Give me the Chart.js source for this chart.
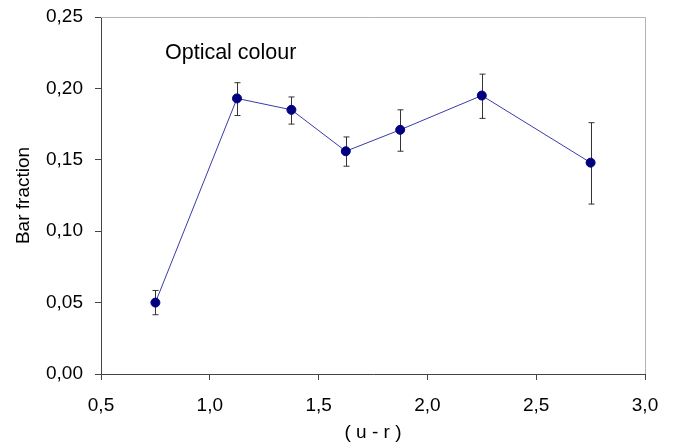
<!DOCTYPE html>
<html>
<head>
<meta charset="utf-8">
<script src="https://cdn.jsdelivr.net/npm/chart.js@4/dist/chart.umd.min.js"></script>
<style>
  html, body { margin: 0; padding: 0; background: #fff; }
  #wrap { width: 674px; height: 444px; }
</style>
</head>
<body>
<div id="wrap"><canvas id="chart"></canvas></div>
<script>
// colour bins (u - r) and measured bar fraction
const colourBins  = [0.75, 1.125, 1.375, 1.625, 1.875, 2.25, 2.75];
const barFraction = [0.050, 0.193, 0.185, 0.156, 0.171, 0.195, 0.148];
const errLow      = [0.0415, 0.181, 0.175, 0.1455, 0.156, 0.179, 0.119];
const errHigh     = [0.0585, 0.204, 0.194, 0.166, 0.185, 0.210, 0.176];

const panelLabel = 'Optical colour';
const AXIS_FONT  = { family: 'Liberation Sans, Arial, sans-serif', size: 19 };

// error bars, drawn under the markers
const errorBars = {
  id: 'errorBars',
  beforeDatasetsDraw(chart) {
    const { ctx, scales: { x, y } } = chart;
    ctx.save();
    ctx.strokeStyle = '#333';
    ctx.lineWidth = 1;
    colourBins.forEach((b, i) => {
      const px = Math.round(x.getPixelForValue(b)) + 0.5;
      const yt = y.getPixelForValue(errHigh[i]);
      const yb = y.getPixelForValue(errLow[i]);
      ctx.beginPath();
      ctx.moveTo(px, yt); ctx.lineTo(px, yb);
      ctx.moveTo(px - 3, yt); ctx.lineTo(px + 3, yt);
      ctx.moveTo(px - 3, yb); ctx.lineTo(px + 3, yb);
      ctx.stroke();
    });
    ctx.restore();
  }
};

// light top/right frame + the panel label
const frame = {
  id: 'frame',
  afterDraw(chart) {
    const { ctx, chartArea: a, scales: { x, y } } = chart;
    ctx.save();
    ctx.strokeStyle = '#b4b4b4';
    ctx.lineWidth = 1;
    ctx.beginPath();
    ctx.moveTo(a.left, a.top + 0.5); ctx.lineTo(a.right + 0.5, a.top + 0.5);
    ctx.lineTo(a.right + 0.5, a.bottom);
    ctx.stroke();
    ctx.fillStyle = '#000';
    ctx.font = '21.5px Liberation Sans, Arial, sans-serif';
    ctx.textBaseline = 'middle';
    ctx.fillText(panelLabel, x.getPixelForValue(0.794), y.getPixelForValue(0.2247));
    ctx.restore();
  }
};

new Chart(document.getElementById('chart'), {
  type: 'line',
  data: {
    datasets: [{
      data: colourBins.map((b, i) => ({ x: b, y: barFraction[i] })),
      borderColor: '#3a3aa8',
      borderWidth: 1,
      backgroundColor: '#000080',
      pointBackgroundColor: '#000080',
      pointBorderColor: '#000080',
      pointRadius: 4.5,
      tension: 0,
    }],
  },
  options: {
    responsive: true,
    maintainAspectRatio: false,
    animation: false,
    layout: { padding: { left: 0, right: 29, top: 17, bottom: 0 } },
    plugins: { legend: { display: false }, tooltip: { enabled: false } },
    scales: {
      x: {
        type: 'linear',
        min: 0.5, max: 3.0,
        afterFit: s => { s.height = 70; s.paddingLeft = 0; s.paddingRight = 0; },
        border: { color: '#444', width: 1 },
        grid: { drawOnChartArea: false, drawTicks: true, tickLength: 6, color: '#444' },
        ticks: {
          stepSize: 0.5, padding: 14, color: '#000', font: AXIS_FONT,
          callback: v => v.toFixed(1).replace('.', ','),
        },
        title: { display: true, text: '( u - r )', color: '#000', font: AXIS_FONT, padding: { top: 0, bottom: 0 } },
      },
      y: {
        min: 0, max: 0.25,
        afterFit: s => { s.width = 101; s.paddingTop = 0; s.paddingBottom = 0; },
        border: { color: '#444', width: 1 },
        grid: { drawOnChartArea: false, drawTicks: true, tickLength: 6, color: '#444' },
        ticks: {
          stepSize: 0.05, padding: 12, color: '#000', font: AXIS_FONT,
          callback: v => v.toFixed(2).replace('.', ','),
        },
        title: { display: true, text: 'Bar fraction', color: '#000', font: AXIS_FONT, padding: { top: 12, bottom: 0 } },
      },
    },
  },
  plugins: [errorBars, frame],
});
</script>
</body>
</html>
